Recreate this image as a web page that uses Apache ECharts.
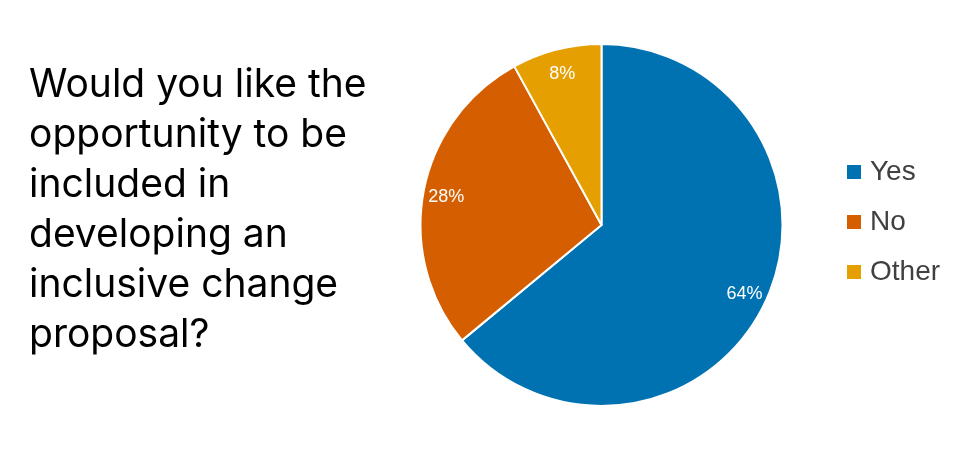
<!DOCTYPE html>
<html>
<head>
<meta charset="utf-8">
<script src="https://cdn.jsdelivr.net/npm/echarts@6/dist/echarts.min.js"></script>
<style>html,body{margin:0;padding:0;background:#fff}#c{width:980px;height:473px}</style>
</head>
<body>
<div id="c"></div>
<script>
const titleLines = ["Would you like the", "opportunity to be", "included in", "developing an", "inclusive change", "proposal?"];
const categories = ["Yes", "No", "Other"];
const values = [64, 28, 8];
const colors = ["#0072B2", "#D55E00", "#E69F00"];

const chart = echarts.init(document.getElementById('c'), null, {renderer: 'canvas'});
const data = categories.map((n, i) => ({name: n, value: values[i], itemStyle: {color: colors[i]}}));
chart.setOption({
  animation: false,
  title: {
    text: titleLines.join('\n'),
    left: 29, top: 60, padding: 0,
    textStyle: {fontFamily: 'Inter', fontSize: 39, fontWeight: 'normal', color: '#000', lineHeight: 50}
  },
  legend: {
    orient: 'vertical', left: 845, top: 158, padding: 0,
    data: categories,
    icon: 'rect', itemWidth: 16, itemHeight: 16, itemGap: 22,
    textStyle: {fontFamily: 'Liberation Sans', fontSize: 28, color: '#404040', lineHeight: 28, padding: [0,0,0,3]}
  },
  series: [
    {
      type: 'pie', center: [601.5, 225], radius: [0, 181],
      startAngle: 90, clockwise: true,
      data: data,
      itemStyle: {borderColor: '#fff', borderWidth: 2},
      label: {show: false}, labelLine: {show: false},
      emphasis: {disabled: true}
    },
    {
      type: 'pie', center: [601.5, 227], radius: [129, 181],
      startAngle: 90, clockwise: true, silent: true,
      data: categories.map((n, i) => ({name: n, value: values[i]})),
      itemStyle: {color: 'rgba(0,0,0,0)', borderWidth: 0},
      label: {show: true, position: 'inside', formatter: '{d}%', color: '#fff', fontFamily: 'Liberation Sans', fontSize: 18},
      labelLine: {show: false},
      emphasis: {disabled: true}
    }
  ]
});
</script>
</body>
</html>
